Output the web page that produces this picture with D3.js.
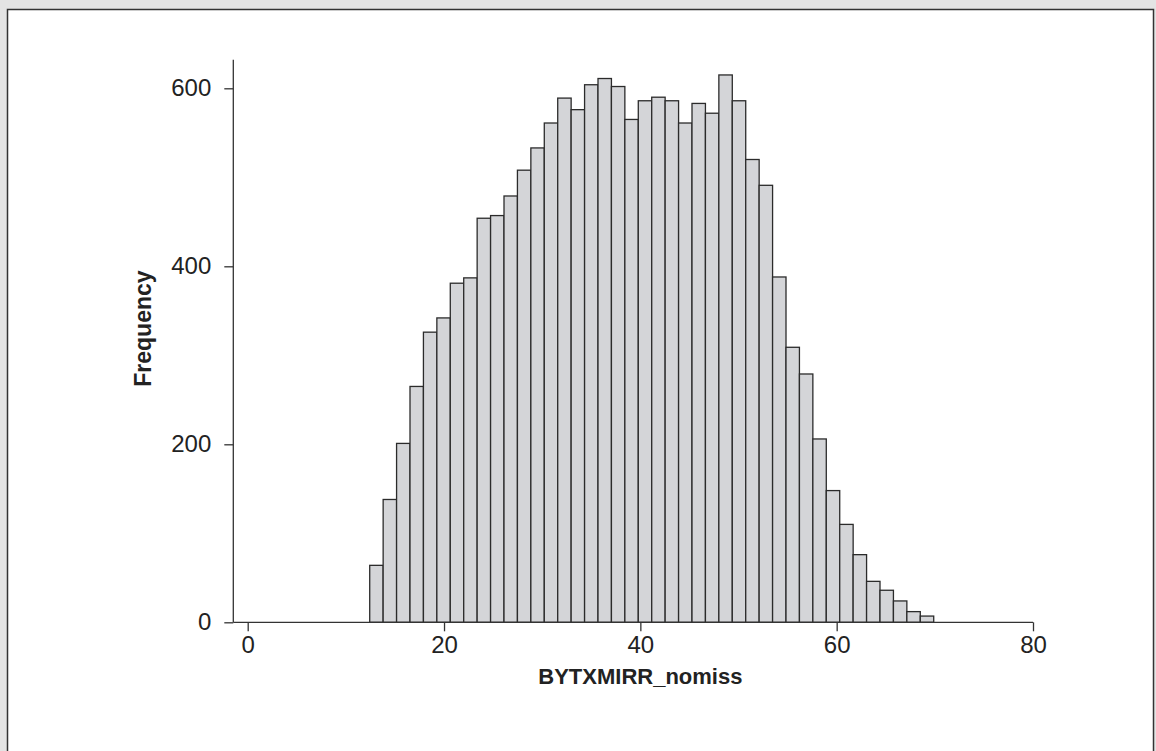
<!DOCTYPE html>
<meta charset="utf-8">
<script src="https://d3js.org/d3.v7.min.js"></script>
<style>
    body { margin: 0; background: #e4e4e4; }
</style>

<div id="hist_area"></div>

<script>

    // histogram counts, one per bin
    let counts = [64, 138, 201, 265, 326, 342, 381, 387, 454, 457, 479, 508, 533, 561,
                  589, 576, 604, 611, 602, 565, 586, 590, 586, 561, 583, 572, 615, 586,
                  520, 491, 388, 309, 279, 206, 148, 110, 76, 46, 36, 24, 12, 7];

    // bins start here and are all the same width
    let binStart = 12.43;
    let binWidth = 1.368;

    let xTicks = [0, 20, 40, 60, 80];
    let yTicks = [0, 200, 400, 600];

    let xTitle = "BYTXMIRR_nomiss";
    let yTitle = "Frequency";

    drawHist();

    function drawHist() {
        let width = 1156;
        let height = 751;
        let font = "Liberation Sans, Arial, sans-serif";

        let svg = d3.select("#hist_area")
                    .append("svg")
                        .attr("width", width)
                        .attr("height", height)
                        .style("display", "block");

        // grey strip on top + white panel with dark frame
        svg.append("rect")
            .attr("x", 0).attr("y", 0)
            .attr("width", width).attr("height", height)
            .attr("fill", "#e4e4e4");

        svg.append("rect")
            .attr("x", 7.5).attr("y", 9.5)
            .attr("width", 1146).attr("height", 780)
            .attr("fill", "white")
            .attr("stroke", "#333")
            .attr("stroke-width", 1.5);

        // scales
        let x = d3.scaleLinear()
                  .domain([0, 80])
                  .range([247.7, 1033]);

        let y = d3.scaleLinear()
                  .domain([0, 600])
                  .range([622.3, 88.3]);

        let bins = counts.map((c, i) => ({x0: binStart + i * binWidth, x1: binStart + (i + 1) * binWidth, n: c}));

        // bars
        svg.selectAll("histBars")
            .data(bins)
            .enter()
            .append("rect")
                .attr("x", d => x(d.x0))
                .attr("y", d => y(d.n))
                .attr("width", d => x(d.x1) - x(d.x0))
                .attr("height", d => y(0) - y(d.n))
                .attr("fill", "#d4d5d8")
                .attr("stroke", "#2b2b2b")
                .attr("stroke-width", 1.3);

        // x axis: line runs from the y axis out to 80
        let xAxis = svg.append("g")
                       .attr("transform", "translate(0," + y(0) + ")")
                       .call(d3.axisBottom(x).tickValues(xTicks).tickSize(9).tickSizeOuter(0).tickPadding(5));

        xAxis.select(".domain")
            .attr("d", "M" + 233.3 + ",0H" + x(80));

        // y axis: line extends a bit above 600
        let yAxis = svg.append("g")
                       .attr("transform", "translate(233.3,0)")
                       .call(d3.axisLeft(y).tickValues(yTicks).tickSize(9).tickSizeOuter(0).tickPadding(13));

        yAxis.select(".domain")
            .attr("d", "M0," + y(0) + "V" + y(632));

        svg.selectAll(".tick line, .domain")
            .attr("stroke", "#333")
            .attr("stroke-width", 1.3);

        svg.selectAll(".tick text")
            .attr("fill", "#222")
            .style("font-family", font)
            .style("font-size", "24px");

        // axis titles
        svg.append("text")
            .attr("x", (x(0) + x(80)) / 2)
            .attr("y", 684)
            .attr("text-anchor", "middle")
            .style("font-family", font)
            .style("font-size", "22px")
            .style("font-weight", "bold")
            .attr("fill", "#222")
            .text(xTitle);

        svg.append("text")
            .attr("transform", "translate(151," + y(330) + ") rotate(-90)")
            .attr("text-anchor", "middle")
            .style("font-family", font)
            .style("font-size", "23px")
            .style("font-weight", "bold")
            .attr("fill", "#222")
            .text(yTitle);
    };

</script>
</html>
